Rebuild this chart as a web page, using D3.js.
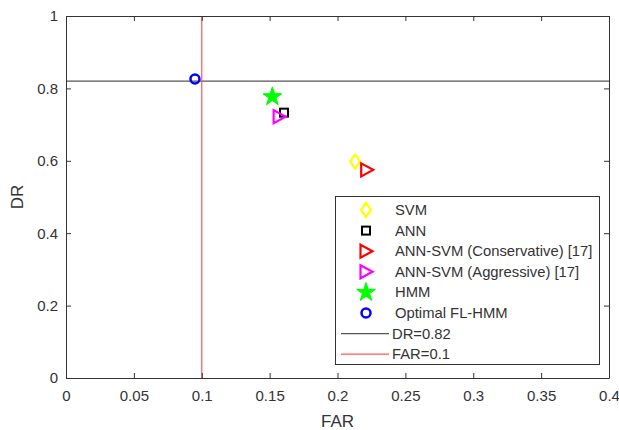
<!DOCTYPE html>
<html><head><meta charset="utf-8">
<script src="https://cdn.jsdelivr.net/npm/d3@7"></script>
<style>body{margin:0;background:#fff;} svg{display:block;font-family:"Liberation Sans",Arial,sans-serif;}</style>
</head><body><svg id="c" width="619" height="430"></svg>
<script>
const seriesNames = ["SVM","ANN","ANN-SVM (Conservative) [17]","ANN-SVM (Aggressive) [17]","HMM","Optimal FL-HMM"];
const farValues = [0.213, 0.1606, 0.2215, 0.157, 0.152, 0.095];
const drValues  = [0.598, 0.733, 0.575, 0.722, 0.777, 0.826];
const markerTypes = ["diamond","square","triangleRight","triangleRight","star","circle"];
const markerColors = ["#ffff00","#000000","#ff0000","#ff00ff","#00ff00","#0000ff"];
const xTicks = [0,0.05,0.1,0.15,0.2,0.25,0.3,0.35,0.4];
const yTicks = [0,0.2,0.4,0.6,0.8,1];
const drThreshold = 0.82, farThreshold = 0.1;

const svg = d3.select("#c");
const L=66,R=609,T=16,B=378;
const x = d3.scaleLinear().domain([0,0.4]).range([L,R]);
const y = d3.scaleLinear().domain([0,1]).range([B,T]);
const axCol="#333";

// reference lines
svg.append("line").attr("x1",x(0)).attr("x2",x(0.4)).attr("y1",y(drThreshold)).attr("y2",y(drThreshold)).attr("stroke","#555").attr("stroke-width",1.2);
svg.append("line").attr("x1",x(farThreshold)).attr("x2",x(farThreshold)).attr("y1",y(0)).attr("y2",y(1)).attr("stroke","#ff5555").attr("stroke-width",1.2);

// axes
const ax = svg.append("g").attr("transform",`translate(0,${B})`).call(d3.axisBottom(x).tickValues(xTicks).tickFormat(d=>d3.format("")(d)).tickSizeInner(-5).tickSizeOuter(0).tickPadding(12));
const ay = svg.append("g").attr("transform",`translate(${L},0)`).call(d3.axisLeft(y).tickValues(yTicks).tickFormat(d=>d3.format("")(d)).tickSizeInner(-5).tickSizeOuter(0).tickPadding(8));
const axT = svg.append("g").attr("transform",`translate(0,${T})`).call(d3.axisTop(x).tickValues(xTicks).tickFormat("").tickSizeInner(-5).tickSizeOuter(0));
const ayR = svg.append("g").attr("transform",`translate(${R},0)`).call(d3.axisRight(y).tickValues(yTicks).tickFormat("").tickSizeInner(-5).tickSizeOuter(0));
[ax,ay,axT,ayR].forEach(g=>{
  g.select(".domain").attr("stroke",axCol);
  g.selectAll(".tick line").attr("stroke",axCol);
  g.selectAll("text").attr("fill",axCol).style("font-size","15px").style("font-family","Liberation Sans, Arial, sans-serif");
});
svg.append("text").attr("x",(L+R)/2).attr("y",427).attr("text-anchor","middle").attr("fill",axCol).style("font-size","17px").text("FAR");
svg.append("text").attr("transform",`translate(23,${(T+B)/2}) rotate(-90)`).attr("text-anchor","middle").attr("fill",axCol).style("font-size","17px").text("DR");

function drawMarker(g,type,color,cx,cy){
  if(type==="diamond"){
    g.append("path").attr("d",`M${cx},${cy-7}L${cx+5},${cy}L${cx},${cy+7}L${cx-5},${cy}Z`).attr("fill","none").attr("stroke",color).attr("stroke-width",2.2);
  } else if(type==="square"){
    g.append("rect").attr("x",cx-4).attr("y",cy-4).attr("width",8).attr("height",8).attr("fill","none").attr("stroke",color).attr("stroke-width",2);
  } else if(type==="triangleRight"){
    g.append("path").attr("d",`M${cx-5.5},${cy-6.5}L${cx+6.5},${cy}L${cx-5.5},${cy+6.5}Z`).attr("fill","none").attr("stroke",color).attr("stroke-width",2.2);
  } else if(type==="star"){
    g.append("path").attr("d",d3.symbol().type(d3.symbolStar).size(110)()).attr("transform",`translate(${cx},${cy})`).attr("fill",color).attr("stroke",color).attr("stroke-width",1);
  } else if(type==="circle"){
    g.append("circle").attr("cx",cx).attr("cy",cy).attr("r",4.5).attr("fill","none").attr("stroke",color).attr("stroke-width",2.5);
  }
}
const mg = svg.append("g");
seriesNames.forEach((n,i)=>drawMarker(mg,markerTypes[i],markerColors[i],x(farValues[i]),y(drValues[i])));

// legend
const lg = svg.append("g");
lg.append("rect").attr("x",335.5).attr("y",196.5).attr("width",264).attr("height",168).attr("fill","#fff").attr("stroke",axCol).attr("stroke-width",1);
const legNames = seriesNames.concat(["DR=0.82","FAR=0.1"]);
const rowY = i=>210+i*20.6;
legNames.forEach((n,i)=>{
  if(i<6) drawMarker(lg,markerTypes[i],markerColors[i],366,rowY(i));
  else lg.append("line").attr("x1",341).attr("x2",389).attr("y1",rowY(i)).attr("y2",rowY(i)).attr("stroke",i===6?"#555":"#ff5555").attr("stroke-width",1.2);
  lg.append("text").attr("x",i<6?395:392).attr("y",rowY(i)+5).attr("fill",axCol).style("font-size","14.8px").text(n);
});
</script></body></html>
